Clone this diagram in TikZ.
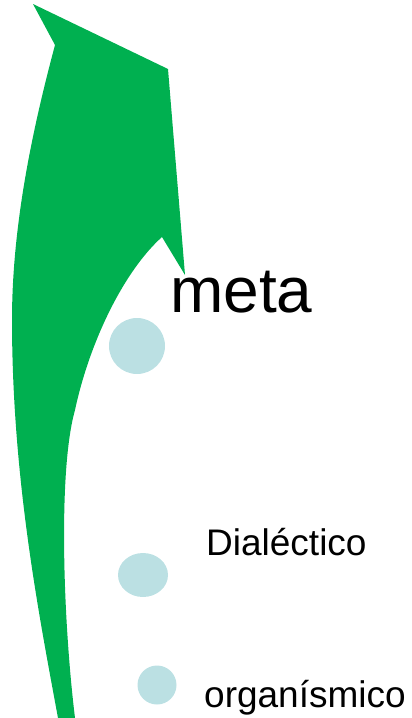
\documentclass[tikz,border=0pt]{standalone}
\usepackage{fontspec}
\setmainfont{Liberation Sans}
\definecolor{arrowgreen}{RGB}{0,176,80}
\definecolor{dotblue}{RGB}{187,224,227}
\begin{document}
\begin{tikzpicture}[x=1pt,y=-1pt,
  dot/.style={fill=dotblue,draw=none},
  lbl/.style={anchor=base west,inner sep=0pt,text=black}]
\useasboundingbox (0,0) rectangle (412,718);
% curved green arrow
\fill[arrowgreen] (33,4) -- (55,45)
  .. controls (35,120) and (12,220) .. (12,320)
  .. controls (12,480) and (40,620) .. (58,718)
  -- (75,718)
  .. controls (63,620) and (58,470) .. (75,410)
  .. controls (90,340) and (125,270) .. (162,237)
  -- (185,275) -- (168,69) -- cycle;
% dots
\fill[dot] (137,346) circle [radius=28];
\fill[dot] (143,575) ellipse [x radius=25, y radius=22];
\fill[dot] (157,685) circle [radius=19.5];
% labels
\node[lbl,font=\fontsize{64}{70}\selectfont] (meta) at (170,312) {meta};
\node[lbl,font=\fontsize{37}{42}\selectfont] (dial) at (206,555) {Dialéctico};
\node[lbl,font=\fontsize{37}{42}\selectfont] (org) at (204,707) {organísmico};
\end{tikzpicture}
\end{document}
